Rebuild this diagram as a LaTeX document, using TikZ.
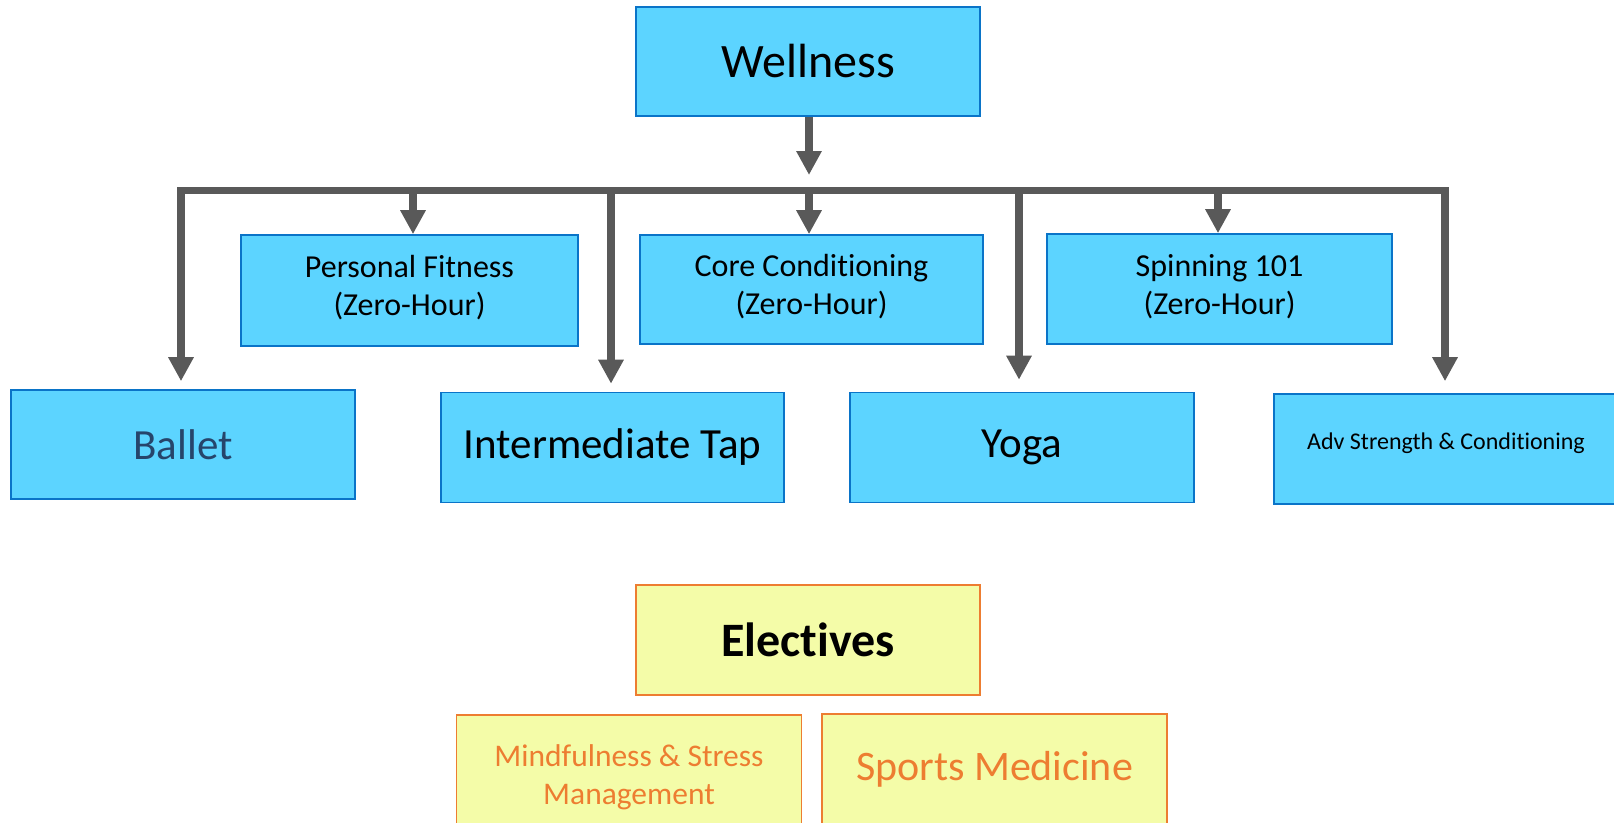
\documentclass[tikz,border=0pt]{standalone}
\usepackage{fontspec}
\setmainfont[Ligatures=NoCommon,RawFeature={-liga;-clig;-calt}]{Carlito}
\usetikzlibrary{arrows.meta,calc}
\definecolor{boxblue}{HTML}{5CD4FF}
\definecolor{edgeblue}{HTML}{0A74C8}
\definecolor{boxyellow}{HTML}{F4FCA8}
\definecolor{edgeorange}{HTML}{ED7D31}
\definecolor{arrowgray}{HTML}{595959}
\definecolor{balletblue}{HTML}{26456B}
\definecolor{txtorange}{HTML}{ED7D31}
\newcommand{\nolig}{\kern0pt }
\begin{document}
\begin{tikzpicture}[x=1pt,y=-1pt,
  bluebox/.style={draw=edgeblue, fill=boxblue, line width=1.6pt, minimum width=344pt, minimum height=109pt, inner sep=0pt, align=center},
  yelbox/.style={draw=edgeorange, fill=boxyellow, line width=1.6pt, minimum width=345pt, minimum height=110pt, inner sep=0pt, align=center},
  arr/.style={draw=arrowgray, line width=7.5pt, -{Triangle[width=24pt,length=24pt]}},
  barline/.style={draw=arrowgray, line width=7pt},
  midtext/.style={font=\fontsize{32}{38}\selectfont},
  bigtext/.style={font=\fontsize{43}{51}\selectfont}]
\path[use as bounding box] (0,0) rectangle (1614,822);
\clip (0,0) rectangle (1614,822);

% blue boxes
\node[bluebox, font=\fontsize{48}{57}\selectfont] (wellness) at (808,61.5) {Wellness};
\node[bluebox, minimum width=337pt, minimum height=111pt] (pf) at (409.5,290.5) {};
\node[midtext, align=center] (pftext) at (409.5,288) {Personal Fitness\\(Zero-Hour)};
\node[bluebox, minimum width=343pt] (cc) at (811.5,289.5) {};
\node[midtext, align=center] (cctext) at (811.5,287) {Core Condit\nolig ioning\\(Zero-Hour)};
\node[bluebox, minimum width=345pt, minimum height=110pt] (sp) at (1219.5,289) {};
\node[midtext, align=center] (sptext) at (1219.5,287) {Spinning 101\\(Zero-Hour)};
\node[bluebox, bigtext, text=balletblue] (ballet) at (183,444.5) {Ballet};
\node[bluebox, bigtext, minimum width=343pt, minimum height=110pt] (tap) at (612.5,447.5) {Intermediate Tap};
\node[bluebox, bigtext, minimum height=110pt] (yoga) at (1022,447.5) {Yoga};
\node[bluebox, minimum height=110pt] (adv) at (1446,449) {};
\node[font=\fontsize{24}{29}\selectfont] (advtext) at (1446,443) {Adv Strength \& Condit\nolig ioning};

% yellow boxes
\node[yelbox, font=\bfseries\fontsize{48}{57}\selectfont, minimum width=344pt] (elect) at (808,640) {Elect\nolig ives};
\node[yelbox] (mind) at (629,770) {};
\node[font=\fontsize{31.5}{38}\selectfont, text=txtorange, align=center] (mindtext) at (629,777) {Mindfulness \& Stress\\Management};
\node[yelbox, font=\fontsize{42}{50}\selectfont, text=txtorange] (sports) at (994.5,769) {Sports Medicine};

% connector bar
\coordinate (barL) at (177.5,190.5);
\coordinate (barR) at (1448.5,190.5);
\draw[barline] (barL) -- (barR);
\coordinate (vb) at (181,187);
\coordinate (vt) at (611,187);
\coordinate (vy) at (1019,187);
\coordinate (va) at (1445,187);
\coordinate (sPF) at (413,190);
\coordinate (sCC) at (809,190);
\coordinate (sSP) at (1218,190);
\coordinate (wtip) at (809,187);

% arrows
\draw[arr, shorten >=12pt] (wellness.south -| wtip) -- (wtip);
\draw[arr] (sPF) -- (sPF |- pf.north);
\draw[arr] (sCC) -- (sCC |- cc.north);
\draw[arr] (sSP) -- (sSP |- sp.north);
\draw[arr, shorten >=8pt] (vb) -- (vb |- ballet.north);
\draw[arr, shorten >=8pt] (vt) -- (vt |- tap.north);
\draw[arr, shorten >=12pt] (vy) -- (vy |- yoga.north);
\draw[arr, shorten >=12pt] (va) -- (va |- adv.north);
\end{tikzpicture}
\end{document}
